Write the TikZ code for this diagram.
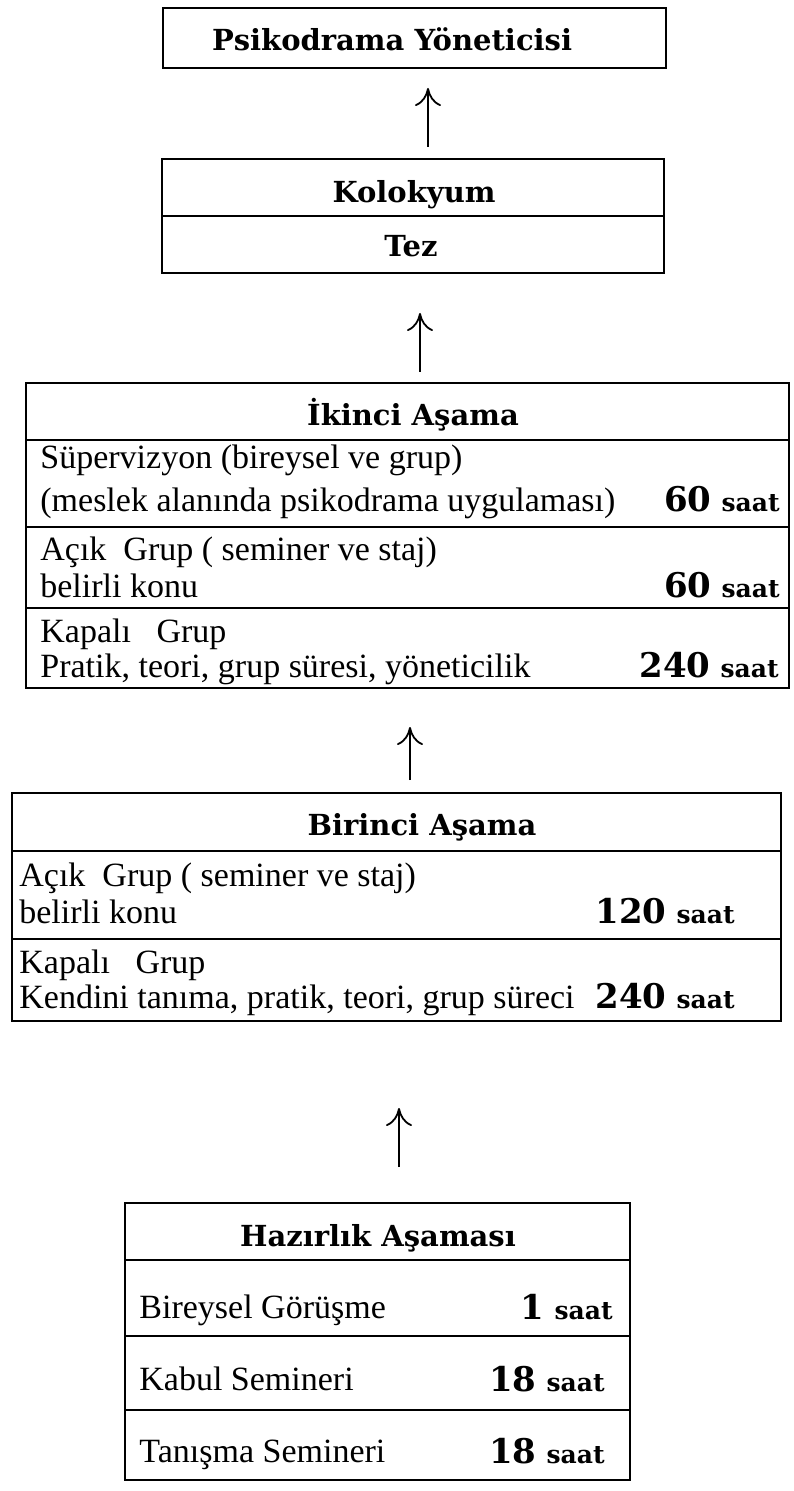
\documentclass[tikz,border=0pt]{standalone}
\usepackage{fontspec}
\setmainfont{Liberation Serif}
\newfontfamily\boldserif{DejaVu Serif}
\usetikzlibrary{arrows.meta}
\newcommand{\headfont}{\fontsize{14.5pt}{17pt}\boldserif\bfseries}
\newcommand{\bodyfont}{\fontsize{17pt}{19pt}\selectfont}
\newcommand{\saatnum}[1]{{\fontsize{17pt}{19pt}\boldserif\bfseries #1}\hspace{5pt}{\fontsize{12.5pt}{14pt}\boldserif\bfseries saat}}
\begin{document}
\begin{tikzpicture}[x=0.5pt,y=-0.5pt,>={To[length=9pt,width=13pt]},
    frame/.style={line width=1.2pt},
    arr/.style={->,line width=0.9pt},
    head/.style={anchor=base,inner sep=0pt,font=\headfont},
    txt/.style={anchor=base west,inner sep=0pt,font=\bodyfont},
    hrs/.style={anchor=base east,inner sep=0pt}]
  \useasboundingbox (0,0) rectangle (793,1491);
  % top box
  \draw[frame] (163,8) rectangle (666,68);
  \node[head] (yon) at (392,51) {Psikodrama Yöneticisi};
  % kolokyum / tez
  \draw[frame] (162,159) rectangle (664,273);
  \draw[frame] (162,216) -- (664,216);
  \node[head] (kol) at (414,203) {Kolokyum};
  \node[head] (tez) at (411,257) {Tez};
  % ikinci asama
  \draw[frame] (26,383) rectangle (789,688);
  \foreach \y in {440,527,608} \draw[frame] (26,\y) -- (789,\y);
  \node[head] (ikinci) at (413,426) {İkinci Aşama};
  \node[txt] (sup) at (40,469) {Süpervizyon (bireysel ve grup)};
  \node[txt] (mes) at (40,511) {(meslek alanında psikodrama uygulaması)};
  \node[hrs] (h60a) at (780,511) {\saatnum{60}};
  \node[txt] (acik2) at (40,560) {Açık\ \ Grup ( seminer ve staj)};
  \node[txt] (kon2) at (40,597) {belirli konu};
  \node[hrs] (h60b) at (780,597) {\saatnum{60}};
  \node[txt] (kap2) at (40,642) {Kapalı\ \ \ Grup};
  \node[txt] (pra2) at (40,677) {Pratik, teori, grup süresi, yöneticilik};
  \node[hrs] (h240b) at (779,677) {\saatnum{240}};
  % birinci asama
  \draw[frame] (12,793) rectangle (781,1021);
  \foreach \y in {851,939} \draw[frame] (12,\y) -- (781,\y);
  \node[head] (birinci) at (422,835) {Birinci Aşama};
  \node[txt] (acik1) at (19,886) {Açık\ \ Grup ( seminer ve staj)};
  \node[txt] (kon1) at (19,923) {belirli konu};
  \node[hrs] (h120) at (735,923) {\saatnum{120}};
  \node[txt] (kap1) at (19,973) {Kapalı\ \ \ Grup};
  \node[txt] (ken1) at (19,1008) {Kendini tanıma, pratik, teori, grup süreci};
  \node[hrs] (h240a) at (735,1008) {\saatnum{240}};
  % hazirlik asamasi
  \draw[frame] (125,1203) rectangle (630,1480);
  \foreach \y in {1260,1336,1410} \draw[frame] (125,\y) -- (630,\y);
  \node[head] (haz) at (378,1246) {Hazırlık Aşaması};
  \node[txt] (gor) at (139,1318) {Bireysel Görüşme};
  \node[hrs] (h1) at (613,1319) {\saatnum{1}};
  \node[txt] (kab) at (139,1390) {Kabul Semineri};
  \node[hrs] (h18a) at (605,1391) {\saatnum{18}};
  \node[txt] (tan) at (139,1462) {Tanışma Semineri};
  \node[hrs] (h18b) at (605,1463) {\saatnum{18}};
  % arrows
  \coordinate (a1s) at (428,147); \coordinate (a1e) at (428,88);
  \coordinate (a2s) at (420,372); \coordinate (a2e) at (420,313);
  \coordinate (a3s) at (410,780); \coordinate (a3e) at (410,727);
  \coordinate (a4s) at (399,1167); \coordinate (a4e) at (399,1108);
  \draw[arr] (a1s) -- (a1e);
  \draw[arr] (a2s) -- (a2e);
  \draw[arr] (a3s) -- (a3e);
  \draw[arr] (a4s) -- (a4e);
\end{tikzpicture}
\end{document}
